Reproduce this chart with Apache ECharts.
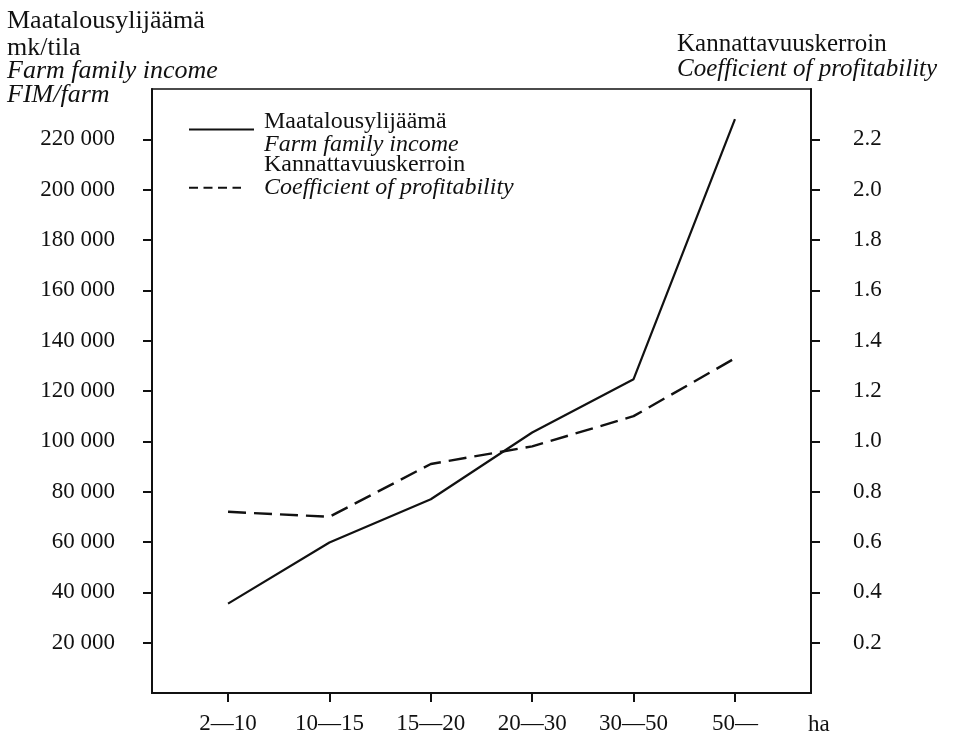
<!DOCTYPE html>
<html>
<head>
<meta charset="utf-8">
<script src="https://cdn.jsdelivr.net/npm/echarts@6/dist/echarts.min.js"></script>
<style>
  html, body { margin: 0; padding: 0; background: #fff; }
  #chart { width: 961px; height: 735px; }
</style>
</head>
<body>
<div id="chart"></div>
<script>
// ---- data ----
const categories = ['2\u201410', '10\u201415', '15\u201420', '20\u201430', '30\u201450', '50\u2014'];
const incomeValues = [35500, 59800, 77000, 103500, 124700, 228000];   // FIM/farm (left axis)
const profitValues = [0.72, 0.70, 0.91, 0.98, 1.10, 1.33];            // coefficient (right axis)
const leftTicks = [20000, 40000, 60000, 80000, 100000, 120000, 140000, 160000, 180000, 200000, 220000];
const rightTicks = [0.2, 0.4, 0.6, 0.8, 1.0, 1.2, 1.4, 1.6, 1.8, 2.0, 2.2];
const categoryIdx = categories.map((c, i) => i);

const FONT = "'Liberation Serif', 'DejaVu Serif', serif";
const INK = '#111';

const fmtThousands = v => String(Math.round(v)).replace(/\B(?=(\d{3})+(?!\d))/g, ' ');

const legendRich = {
  a: { fontFamily: FONT, fontSize: 24, lineHeight: 22.5, color: INK },
  b: { fontFamily: FONT, fontSize: 24, lineHeight: 22.5, color: INK, fontStyle: 'italic' }
};

const chart = echarts.init(document.getElementById('chart'), null, { renderer: 'canvas' });

const option = {
  backgroundColor: '#fff',
  animation: false,
  grid: {
    left: 152, right: 150, top: 89, bottom: 39.5,
    show: true, borderColor: INK, borderWidth: 1.5, backgroundColor: 'transparent'
  },
  legend: [
    {
      orient: 'vertical', left: 188, top: 110,
      itemWidth: 65, itemHeight: 14, itemGap: 0, padding: 0,
      selectedMode: false,
      itemStyle: { opacity: 0 },
      data: [{ name: 'Maatalousylijäämä', lineStyle: { type: 'solid', width: 2, color: INK, opacity: 1 } }],
      formatter: () => '{a|Maatalousylijäämä}\n{b|Farm family income}',
      textStyle: { padding: [7.5, 0, 0, 5], rich: legendRich }
    },
    {
      orient: 'vertical', left: 188, top: 152.75,
      itemWidth: 52, itemHeight: 14, itemGap: 0, padding: 0,
      selectedMode: false,
      itemStyle: { opacity: 0 },
      data: [{ name: 'Kannattavuuskerroin', lineStyle: { type: [9, 5.5], width: 2, color: INK, opacity: 1 } }],
      formatter: () => '{a|Kannattavuuskerroin}\n{b|Coefficient of profitability}',
      textStyle: { padding: [0, 0, 23.5, 18], rich: legendRich }
    }
  ],
  xAxis: {
    type: 'value',
    min: -0.75, max: 5.75,
    axisLine: { show: true, onZero: false, lineStyle: { color: INK, width: 2 } },
    axisTick: { show: true, customValues: categoryIdx, length: 9, lineStyle: { color: INK, width: 2 } },
    axisLabel: {
      customValues: categoryIdx,
      formatter: v => categories[Math.round(v)] || '',
      fontFamily: FONT, fontSize: 23, color: INK, margin: 19
    },
    splitLine: { show: false }
  },
  yAxis: [
    {
      type: 'value', position: 'left',
      min: 0, max: 240000, interval: 20000,
      axisLine: { show: true, onZero: false, lineStyle: { color: INK, width: 2 } },
      axisTick: { show: true, customValues: leftTicks, length: 9, lineStyle: { color: INK, width: 2 } },
      axisLabel: {
        customValues: leftTicks,
        formatter: fmtThousands,
        fontFamily: FONT, fontSize: 23, color: INK, margin: 37
      },
      splitLine: { show: false }
    },
    {
      type: 'value', position: 'right',
      min: 0, max: 2.4, interval: 0.2,
      axisLine: { show: true, onZero: false, lineStyle: { color: INK, width: 2 } },
      axisTick: { show: true, customValues: rightTicks, length: 9, lineStyle: { color: INK, width: 2 } },
      axisLabel: {
        customValues: rightTicks,
        formatter: v => v.toFixed(1),
        fontFamily: FONT, fontSize: 23, color: INK, margin: 42
      },
      splitLine: { show: false }
    }
  ],
  series: [
    {
      name: 'Maatalousylijäämä',
      type: 'line',
      yAxisIndex: 0,
      symbol: 'none',
      lineStyle: { color: INK, width: 2.2, type: 'solid' },
      itemStyle: { color: INK },
      data: categoryIdx.map(i => [i, incomeValues[i]])
    },
    {
      name: 'Kannattavuuskerroin',
      type: 'line',
      yAxisIndex: 1,
      symbol: 'none',
      lineStyle: { color: INK, width: 2.4, type: [18, 8] },
      itemStyle: { color: INK },
      data: categoryIdx.map(i => [i, profitValues[i]])
    }
  ],
  graphic: [
    { type: 'text', left: 7, top: 8, style: { text: 'Maatalousylijäämä', font: '26px ' + FONT, fill: INK } },
    { type: 'text', left: 7, top: 35, style: { text: 'mk/tila', font: '26px ' + FONT, fill: INK } },
    { type: 'text', left: 7, top: 58, style: { text: 'Farm family income', font: 'italic 26px ' + FONT, fill: INK } },
    { type: 'text', left: 7, top: 82, style: { text: 'FIM/farm', font: 'italic 26px ' + FONT, fill: INK } },
    { type: 'text', left: 677, top: 32, style: { text: 'Kannattavuuskerroin', font: '25px ' + FONT, fill: INK } },
    { type: 'text', left: 677, top: 56.5, style: { text: 'Coefficient of profitability', font: 'italic 25px ' + FONT, fill: INK } },
    { type: 'text', left: 808, top: 713, style: { text: 'ha', font: '23px ' + FONT, fill: INK } }
  ]
};

chart.setOption(option);
</script>
</body>
</html>
